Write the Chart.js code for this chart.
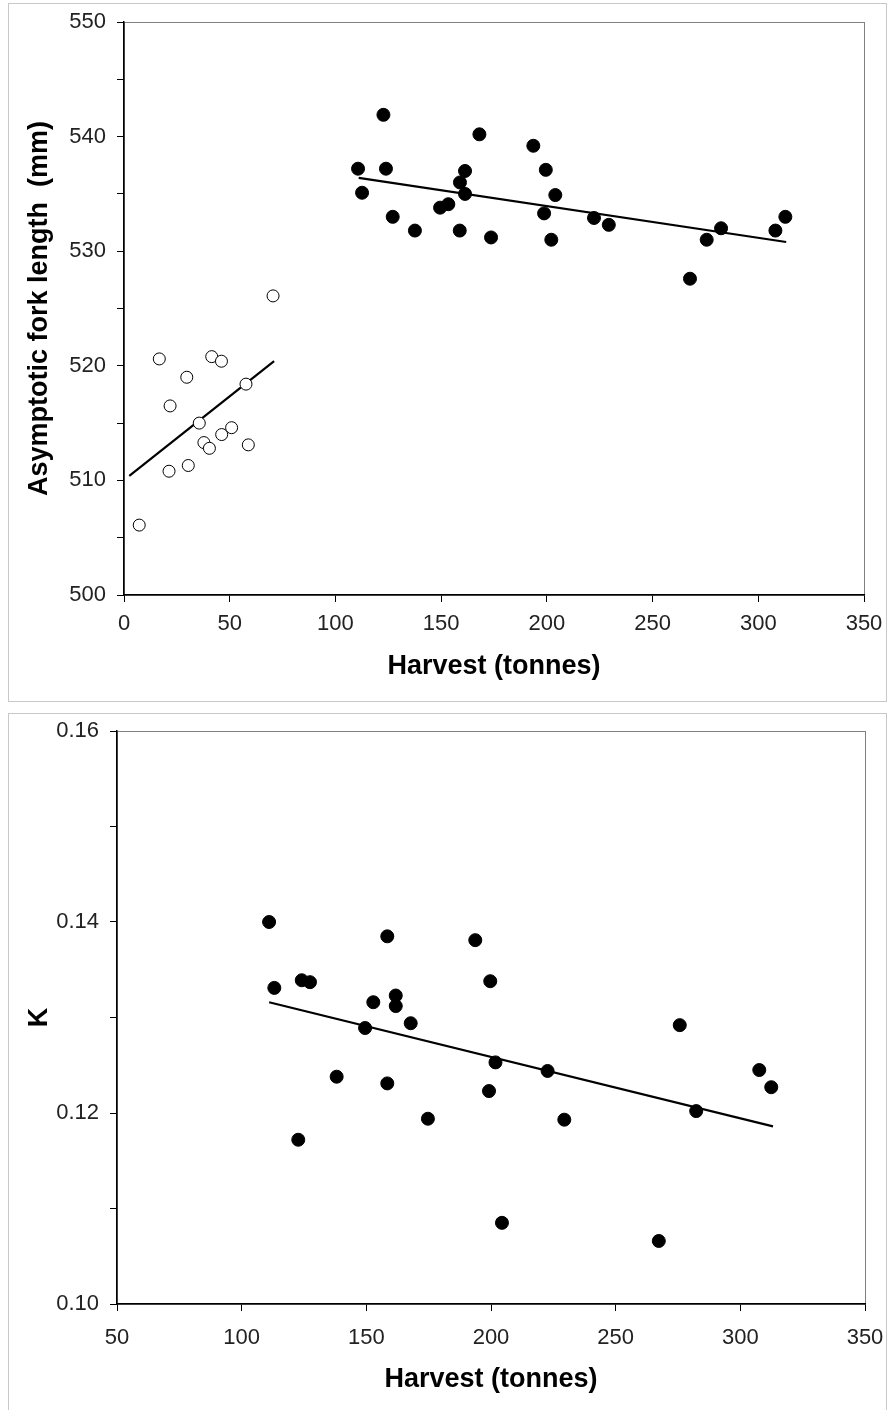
<!DOCTYPE html>
<html>
<head>
<meta charset="utf-8">
<script src="https://cdn.jsdelivr.net/npm/chart.js@4.4.1/dist/chart.umd.min.js"></script>
<style>
  body { margin: 0; background: #fff; }
  .panel { position: absolute; left: 8px; width: 877px; border: 1px solid #c8c8c8; background: #fff; }
  canvas { display: block; }
</style>
</head>
<body>
<div class="panel" style="top:3px;height:697px"><canvas id="lengthChart" width="877" height="697"></canvas></div>
<div class="panel" style="top:713px;height:697px"><canvas id="kChart" width="877" height="696"></canvas></div>
<script>
// top panel: open circles (low harvest years)
const lowHarvest = [16.7, 41.5, 46.1, 29.7, 57.7, 21.8, 35.6, 50.9, 46.2, 37.8, 40.4, 58.8, 21.3, 30.4, 7.2, 70.5];
const lowLength = [520.6, 520.8, 520.4, 519.0, 518.4, 516.5, 515.0, 514.6, 514.0, 513.3, 512.8, 513.1, 510.8, 511.3, 506.1, 526.1];

// top panel: filled circles (high harvest years)
const highHarvest = [122.7, 168.1, 193.6, 110.7, 123.9, 161.3, 199.5, 158.9, 112.6, 161.3, 204.0, 149.5, 153.4,
  127.1, 198.7, 137.6, 158.8, 173.6, 202.1, 222.3, 229.3, 282.4, 275.6, 267.7, 308.1, 312.8];
const highLength = [541.9, 540.2, 539.2, 537.2, 537.2, 537.0, 537.1, 536.0, 535.1, 535.0, 534.9, 533.8, 534.1,
  533.0, 533.3, 531.8, 531.8, 531.2, 531.0, 532.9, 532.3, 532.0, 531.0, 527.6, 531.8, 533.0];

// trend line end points
const lowTrendX = [2.5, 71];
const lowTrendY = [510.4, 520.4];
const highTrendX = [111, 313.2];
const highTrendY = [536.4, 530.8];

// bottom panel: growth coefficient K
const kHarvest = [111.0, 158.4, 193.7, 113.1, 124.1, 127.4, 199.7, 161.8, 161.8, 152.8, 167.8, 149.5, 201.8,
  222.7, 138.1, 158.4, 199.2, 174.7, 229.4, 122.7, 275.7, 307.6, 312.4, 282.3, 267.3, 204.4];
const kValue = [0.1400, 0.1385, 0.1381, 0.1331, 0.1339, 0.1337, 0.1338, 0.1323, 0.1312, 0.1316, 0.1294, 0.1289, 0.1253,
  0.1244, 0.1238, 0.1231, 0.1223, 0.1194, 0.1193, 0.1172, 0.1292, 0.1245, 0.1227, 0.1202, 0.1066, 0.1085];
const kTrendX = [111.0, 313.1];
const kTrendY = [0.1316, 0.1186];

const FONT = "'Liberation Sans', Arial, sans-serif";

function pts(xs, ys) {
  return xs.map((x, i) => ({ x: x, y: ys[i] }));
}

const plotBorder = {
  id: 'plotBorder',
  beforeDraw(chart) {
    const a = chart.chartArea, ctx = chart.ctx;
    ctx.save();
    ctx.strokeStyle = '#808080';
    ctx.lineWidth = 1;
    ctx.strokeRect(a.left + 0.5, a.top + 0.5, a.right - a.left, a.bottom - a.top);
    ctx.restore();
  }
};

function axis(extra) {
  return Object.assign({
    type: 'linear',
    grid: { display: true, drawOnChartArea: false, drawTicks: true, tickLength: 7, color: '#000', lineWidth: 1 },
    border: { display: true, color: '#000', width: 1.5 },
  }, extra);
}

function trend(xs, ys) {
  return { type: 'line', data: pts(xs, ys), borderColor: '#000', borderWidth: 2.2, pointRadius: 0, fill: false };
}

function makeChart(id, datasets, xOpts, yOpts, padding, yWidth) {
  new Chart(document.getElementById(id), {
    type: 'scatter',
    data: { datasets: datasets },
    options: {
      responsive: false,
      animation: false,
      devicePixelRatio: 1,
      layout: { padding: padding },
      plugins: { legend: { display: false }, tooltip: { enabled: false } },
      scales: {
        x: axis(Object.assign({
          position: 'bottom',
          // fixed axis box; layout padding alone decides the plot edges
          afterFit: s => { s.height = 106; s.paddingLeft = 0; s.paddingRight = 0; },
        }, xOpts)),
        y: axis(Object.assign({
          position: 'left',
          afterFit: s => { s.width = yWidth; s.paddingTop = 0; s.paddingBottom = 0; },
        }, yOpts))
      }
    },
    plugins: [plotBorder]
  });
}

const tickFont = { family: FONT, size: 22 };
const titleFont = { family: FONT, size: 27, weight: 'bold' };

makeChart('lengthChart', [
  { data: pts(lowHarvest, lowLength), pointRadius: 6, pointBackgroundColor: '#fff', pointBorderColor: '#000', pointBorderWidth: 1 },
  { data: pts(highHarvest, highLength), pointRadius: 6.5, pointBackgroundColor: '#000', pointBorderColor: '#000', pointBorderWidth: 1 },
  trend(lowTrendX, lowTrendY),
  trend(highTrendX, highTrendY)
], {
  min: 0, max: 350,
  ticks: { stepSize: 50, font: tickFont, color: '#222', padding: 9, maxRotation: 0 },
  title: { display: true, text: 'Harvest (tonnes)', font: titleFont, color: '#000', padding: { top: 18, bottom: 18 } }
}, {
  min: 500, max: 550,
  ticks: { stepSize: 5, font: tickFont, color: '#222', padding: 11, callback: v => (v % 10 === 0 ? v : '') },
  title: { display: true, text: 'Asymptotic fork length  (mm)', font: titleFont, color: '#000', padding: { top: 14, bottom: 0 } }
}, { left: 0, top: 18, right: 22, bottom: 0 }, 115);

makeChart('kChart', [
  { data: pts(kHarvest, kValue), pointRadius: 6.5, pointBackgroundColor: '#000', pointBorderColor: '#000', pointBorderWidth: 1 },
  trend(kTrendX, kTrendY)
], {
  min: 50, max: 350,
  ticks: { stepSize: 50, font: tickFont, color: '#222', padding: 14, maxRotation: 0 },
  title: { display: true, text: 'Harvest (tonnes)', font: titleFont, color: '#000', padding: { top: 14, bottom: 14 } }
}, {
  min: 0.10, max: 0.16,
  ticks: { stepSize: 0.01, font: tickFont, color: '#222', padding: 11,
    callback: v => (Math.round(v * 100) % 2 === 0 ? v.toFixed(2) : '') },
  title: { display: true, text: 'K', font: titleFont, color: '#000', padding: { top: 14, bottom: 0 } }
}, { left: 0, top: 17, right: 21, bottom: 0 }, 108);
</script>
</body>
</html>
